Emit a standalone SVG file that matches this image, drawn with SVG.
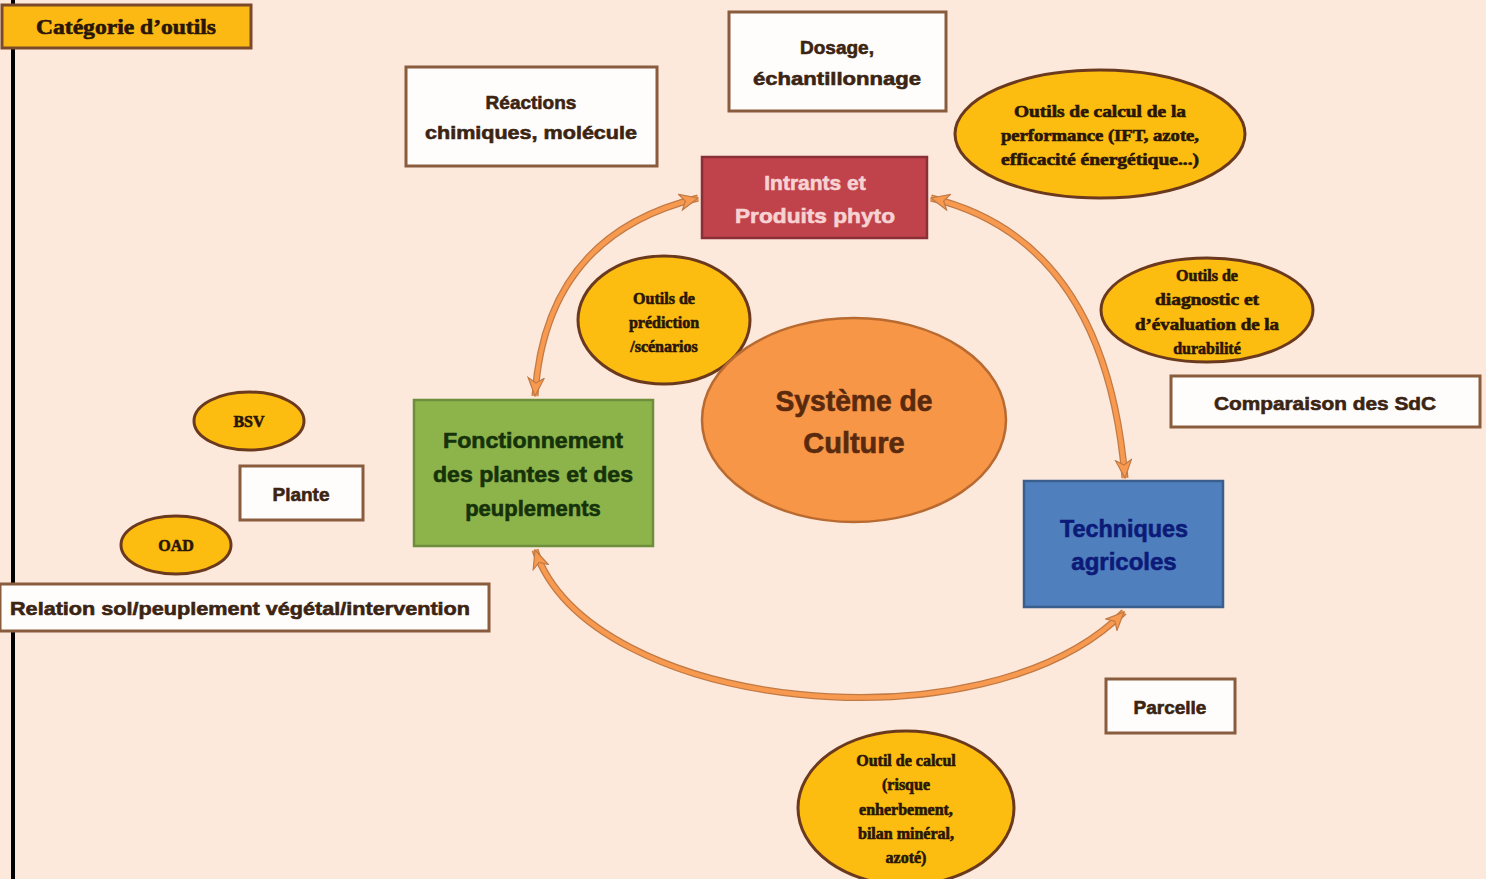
<svg xmlns="http://www.w3.org/2000/svg" width="1486" height="879" viewBox="0 0 1486 879">
<style>
.wbox{fill:#fffdfb;stroke:#8a5c3e;stroke-width:3}
.tool{fill:#fcbd10;stroke:#6b3a1e;stroke-width:3}
.rt{font-family:"Liberation Sans",Arial,sans-serif;font-weight:bold;text-anchor:middle;fill:#3b2412;stroke:#3b2412;stroke-width:0.6}
.st{font-family:"Liberation Serif","Times New Roman",serif;font-weight:bold;text-anchor:middle;fill:#2a1608;stroke:#2a1608;stroke-width:0.6}
.conn-o{fill:none;stroke:#c27a45;stroke-width:7}
.conn{fill:none;stroke:#f79a50;stroke-width:4.5}
</style>
<defs>
<marker id="ah" viewBox="0 0 20 18" refX="19" refY="9" markerWidth="20" markerHeight="18" markerUnits="userSpaceOnUse" orient="auto-start-reverse">
<path d="M1,1 L19,9 L1,17 L6,9 Z" fill="#f79a50" stroke="#c27a45" stroke-width="1.2"/>
</marker>
</defs>
<rect width="1486" height="879" fill="#fce9dc"/>
<rect x="11" y="0" width="4" height="879" fill="#000"/>

<g id="connectors">
<path class="conn-o" d="M535 396 Q545 235 698 198"/>
<path class="conn" d="M535 396 Q545 235 698 198" marker-start="url(#ah)" marker-end="url(#ah)"/>
<path class="conn-o" d="M931 198 Q1105 240 1125 478"/>
<path class="conn" d="M931 198 Q1105 240 1125 478" marker-start="url(#ah)" marker-end="url(#ah)"/>
<path class="conn-o" d="M535 550 C590 712 985 752 1124 612"/>
<path class="conn" d="M535 550 C590 712 985 752 1124 612" marker-start="url(#ah)" marker-end="url(#ah)"/>
</g>

<g id="categorie">
<rect x="2" y="5" width="249" height="43" fill="#fdb913" stroke="#7a4a2a" stroke-width="3"/>
<text class="st" x="126" y="34" font-size="21" textLength="180" lengthAdjust="spacingAndGlyphs">Catégorie d’outils</text>
</g>

<g id="reactions">
<rect class="wbox" x="406" y="67" width="251" height="99"/>
<text class="rt" x="531" y="109" font-size="19">Réactions</text>
<text class="rt" x="531" y="139" font-size="19" textLength="212" lengthAdjust="spacingAndGlyphs">chimiques, molécule</text>
</g>

<g id="dosage">
<rect class="wbox" x="729" y="12" width="217" height="99"/>
<text class="rt" x="837" y="54" font-size="19">Dosage,</text>
<text class="rt" x="837" y="85" font-size="19" textLength="168" lengthAdjust="spacingAndGlyphs">échantillonnage</text>
</g>

<g id="intrants">
<rect x="702" y="157" width="225" height="81" fill="#c0434c" stroke="#8a2f36" stroke-width="2.5"/>
<text class="rt" x="815" y="190" font-size="21" style="fill:#f6d2d2;stroke:#f6d2d2">Intrants et</text>
<text class="rt" x="815" y="223" font-size="21" style="fill:#f6d2d2;stroke:#f6d2d2" textLength="160" lengthAdjust="spacingAndGlyphs">Produits phyto</text>
</g>

<g id="outils-performance">
<ellipse class="tool" cx="1100" cy="134" rx="145" ry="64"/>
<text class="st" x="1100" y="117" font-size="16" textLength="172" lengthAdjust="spacingAndGlyphs">Outils de calcul de la</text>
<text class="st" x="1100" y="141" font-size="16" textLength="198" lengthAdjust="spacingAndGlyphs">performance (IFT, azote,</text>
<text class="st" x="1100" y="165" font-size="16" textLength="198" lengthAdjust="spacingAndGlyphs">efficacité énergétique...)</text>
</g>

<g id="outils-diagnostic">
<ellipse class="tool" cx="1207" cy="310" rx="106" ry="52"/>
<text class="st" x="1207" y="281" font-size="16">Outils de</text>
<text class="st" x="1207" y="305" font-size="16" textLength="104" lengthAdjust="spacingAndGlyphs">diagnostic et</text>
<text class="st" x="1207" y="330" font-size="16" textLength="144" lengthAdjust="spacingAndGlyphs">d’évaluation de la</text>
<text class="st" x="1207" y="354" font-size="16">durabilité</text>
</g>

<g id="comparaison">
<rect class="wbox" x="1171" y="376" width="309" height="51"/>
<text class="rt" x="1325" y="410" font-size="19" textLength="222" lengthAdjust="spacingAndGlyphs">Comparaison des SdC</text>
</g>

<g id="outils-prediction">
<ellipse class="tool" cx="664" cy="320" rx="86" ry="64"/>
<text class="st" x="664" y="304" font-size="16">Outils de</text>
<text class="st" x="664" y="328" font-size="16">prédiction</text>
<text class="st" x="664" y="352" font-size="16">/scénarios</text>
</g>

<g id="systeme">
<ellipse cx="854" cy="420" rx="152" ry="102" fill="#f79646" stroke="#b86a30" stroke-width="2.5"/>
<text class="rt" x="854" y="411" font-size="29" style="fill:#5a2a0e;stroke:#5a2a0e" textLength="157" lengthAdjust="spacingAndGlyphs">Système de</text>
<text class="rt" x="854" y="453" font-size="29" style="fill:#5a2a0e;stroke:#5a2a0e">Culture</text>
</g>

<g id="fonctionnement">
<rect x="414" y="400" width="239" height="146" fill="#8db44b" stroke="#6e8e3c" stroke-width="2.5"/>
<text class="rt" x="533" y="448" font-size="22" style="fill:#16320a;stroke:#16320a" textLength="180" lengthAdjust="spacingAndGlyphs">Fonctionnement</text>
<text class="rt" x="533" y="482" font-size="22" style="fill:#16320a;stroke:#16320a" textLength="200" lengthAdjust="spacingAndGlyphs">des plantes et des</text>
<text class="rt" x="533" y="516" font-size="22" style="fill:#16320a;stroke:#16320a">peuplements</text>
</g>

<g id="techniques">
<rect x="1024" y="481" width="199" height="126" fill="#4f7fbd" stroke="#3a5f8f" stroke-width="2.5"/>
<text class="rt" x="1124" y="537" font-size="24" style="fill:#0c1a78;stroke:#0c1a78" textLength="128" lengthAdjust="spacingAndGlyphs">Techniques</text>
<text class="rt" x="1124" y="570" font-size="24" style="fill:#0c1a78;stroke:#0c1a78">agricoles</text>
</g>

<g id="bsv">
<ellipse class="tool" cx="249" cy="421" rx="55" ry="29"/>
<text class="st" x="249" y="427" font-size="16">BSV</text>
</g>

<g id="plante">
<rect class="wbox" x="240" y="466" width="123" height="54"/>
<text class="rt" x="301" y="501" font-size="19">Plante</text>
</g>

<g id="oad">
<ellipse class="tool" cx="176" cy="545" rx="55" ry="29"/>
<text class="st" x="176" y="551" font-size="16">OAD</text>
</g>

<g id="relation">
<rect class="wbox" x="0" y="584" width="489" height="47"/>
<text class="rt" x="240" y="615" font-size="19" textLength="460" lengthAdjust="spacingAndGlyphs">Relation sol/peuplement végétal/intervention</text>
</g>

<g id="parcelle">
<rect class="wbox" x="1106" y="679" width="129" height="54"/>
<text class="rt" x="1170" y="714" font-size="19">Parcelle</text>
</g>

<g id="outil-calcul">
<ellipse class="tool" cx="906" cy="808" rx="108" ry="77"/>
<text class="st" x="906" y="766" font-size="16">Outil de calcul</text>
<text class="st" x="906" y="790" font-size="16">(risque</text>
<text class="st" x="906" y="815" font-size="16">enherbement,</text>
<text class="st" x="906" y="839" font-size="16">bilan minéral,</text>
<text class="st" x="906" y="863" font-size="16">azoté)</text>
</g>
</svg>
